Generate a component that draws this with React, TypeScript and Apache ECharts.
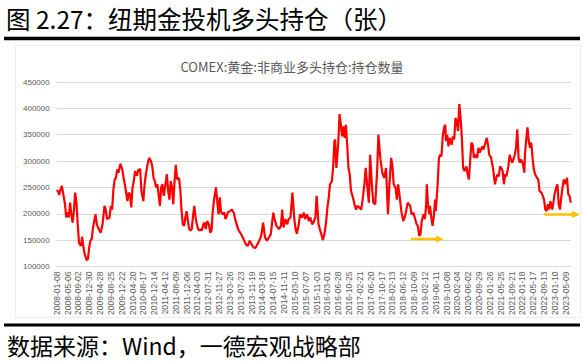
import React, { useEffect, useRef } from "react";
import * as echarts from "echarts";

// ---- data ----
const chartTitle = "COMEX:黄金:非商业多头持仓:持仓数量";
const headerText = "图 2.27：纽期金投机多头持仓（张）";
const footerText = "数据来源：Wind，一德宏观战略部";

// weekly report dates (category axis); one week missing in the 2018-19 shutdown
const firstWeek = "2008-01-08";
const weekCount = 809;
const missingWeek = "2019-01-01";

// y axis
const yMin = 100000;
const yMax = 450000;
const yStep = 50000;

// sampled points: week index on the category axis and long positions (contracts)
const weekIdx = [
  0, 2, 4, 6, 8, 10, 13, 15, 17, 19, 21, 23, 25, 27, 29, 31, 33, 35, 38, 40,
  42, 44, 47, 49, 51, 53, 55, 57, 61, 63, 66, 69, 72, 75, 77, 79, 83, 85, 87, 89,
  91, 93, 95, 97, 100, 103, 105, 107, 109, 111, 113, 115, 117, 119, 121, 123, 126, 128, 131, 133,
  136, 138, 140, 142, 145, 148, 150, 152, 154, 156, 158, 160, 162, 164, 166, 168, 170, 173, 175, 177,
  179, 181, 183, 185, 187, 189, 192, 194, 196, 198, 200, 202, 204, 206, 208, 210, 212, 214, 216, 218,
  220, 222, 224, 226, 228, 230, 232, 234, 236, 239, 241, 243, 245, 247, 250, 252, 254, 256, 258, 261,
  263, 265, 267, 269, 272, 275, 278, 281, 285, 288, 291, 294, 297, 300, 303, 306, 309, 312, 315, 318,
  321, 324, 327, 330, 333, 336, 340, 342, 345, 349, 352, 354, 356, 359, 362, 364, 367, 370, 373, 375,
  377, 380, 382, 385, 388, 390, 393, 396, 398, 401, 403, 406, 408, 411, 413, 418, 421, 423, 425, 427,
  429, 432, 434, 436, 437, 439, 442, 444, 446, 448, 450, 452, 454, 456, 458, 460, 462, 465, 468, 470,
  472, 475, 478, 480, 483, 485, 488, 490, 492, 495, 497, 500, 503, 505, 508, 511, 514, 517, 520, 522,
  525, 527, 529, 532, 534, 536, 538, 541, 544, 547, 551, 555, 557, 560, 562, 565, 567, 569, 571, 573,
  576, 578, 580, 581, 583, 585, 586, 588, 590, 592, 594, 595, 598, 600, 602, 604, 606, 608, 610, 611,
  613, 615, 617, 620, 622, 624, 626, 628, 630, 632, 634, 636, 638, 640, 643, 645, 647, 649, 651, 653,
  655, 657, 660, 662, 664, 668, 670, 673, 675, 677, 679, 682, 685, 688, 690, 692, 694, 696, 698, 700,
  702, 704, 706, 709, 711, 713, 715, 717, 719, 721, 723, 725, 727, 729, 732, 734, 735, 737, 739, 741,
  743, 745, 747, 749, 751, 754, 756, 758, 761, 763, 765, 767, 769, 771, 773, 775, 778, 780, 782, 784,
  786, 788, 790, 792, 794, 796, 798, 801, 803, 805, 807,
];
const longPos = [
  245000, 243000, 236000, 246000, 253000, 240000, 218000, 193000, 203000, 193000, 221000, 199000, 183000, 205000, 240000, 221000, 180000, 145000, 139000, 156000,
  136000, 123000, 112000, 114000, 136000, 149000, 152000, 174000, 199000, 180000, 171000, 164000, 180000, 215000, 208000, 190000, 193000, 215000, 208000, 246000,
  265000, 268000, 284000, 278000, 295000, 284000, 268000, 256000, 240000, 224000, 240000, 237000, 212000, 250000, 262000, 281000, 272000, 283000, 285000, 243000,
  224000, 256000, 275000, 290000, 306000, 300000, 290000, 268000, 262000, 250000, 256000, 237000, 215000, 250000, 256000, 234000, 250000, 275000, 243000, 227000,
  262000, 250000, 218000, 262000, 293000, 265000, 268000, 246000, 205000, 180000, 177000, 193000, 205000, 186000, 171000, 168000, 171000, 196000, 215000, 193000,
  180000, 171000, 168000, 171000, 168000, 180000, 183000, 171000, 186000, 180000, 164000, 168000, 205000, 227000, 250000, 224000, 199000, 231000, 203000, 199000,
  203000, 190000, 196000, 203000, 205000, 208000, 202000, 186000, 170000, 164000, 158000, 150000, 142000, 139000, 149000, 142000, 136000, 135000, 142000, 149000,
  158000, 183000, 155000, 149000, 155000, 161000, 202000, 190000, 177000, 171000, 177000, 208000, 174000, 190000, 180000, 190000, 193000, 240000, 190000, 171000,
  162000, 180000, 199000, 193000, 202000, 190000, 199000, 186000, 193000, 180000, 183000, 193000, 234000, 180000, 171000, 150000, 167000, 186000, 212000, 230000,
  256000, 262000, 290000, 338000, 341000, 287000, 335000, 389000, 369000, 347000, 366000, 344000, 369000, 331000, 287000, 275000, 243000, 231000, 215000, 208000,
  215000, 212000, 208000, 224000, 256000, 287000, 246000, 221000, 312000, 249000, 221000, 218000, 281000, 350000, 306000, 278000, 268000, 287000, 199000, 249000,
  306000, 290000, 256000, 249000, 227000, 256000, 237000, 205000, 186000, 196000, 221000, 215000, 199000, 202000, 193000, 180000, 177000, 158000, 161000, 186000,
  199000, 190000, 218000, 256000, 215000, 199000, 215000, 193000, 177000, 196000, 227000, 205000, 256000, 306000, 312000, 309000, 347000, 363000, 369000, 338000,
  350000, 328000, 344000, 331000, 347000, 341000, 382000, 376000, 357000, 408000, 382000, 344000, 287000, 281000, 290000, 275000, 265000, 300000, 335000, 331000,
  306000, 312000, 306000, 325000, 316000, 328000, 322000, 335000, 344000, 331000, 312000, 306000, 285000, 256000, 268000, 275000, 271000, 290000, 287000, 281000,
  256000, 275000, 271000, 290000, 312000, 303000, 297000, 303000, 312000, 325000, 360000, 306000, 297000, 303000, 294000, 278000, 312000, 341000, 364000, 338000,
  325000, 335000, 306000, 284000, 275000, 268000, 265000, 243000, 240000, 234000, 227000, 208000, 205000, 218000, 208000, 224000, 208000, 224000, 240000, 249000,
  256000, 218000, 208000, 231000, 249000, 265000, 256000, 268000, 237000, 234000, 221000,
];

function buildWeeks(): string[] {
  const out: string[] = [];
  const t0 = Date.parse(firstWeek + "T00:00:00Z");
  for (let i = 0; i < weekCount; i++) {
    const d = new Date(t0 + i * 7 * 86400000).toISOString().slice(0, 10);
    if (d !== missingWeek) out.push(d);
  }
  return out;
}

const CJK = "'Noto Sans CJK SC', 'Noto Sans', sans-serif";
const LAT = "'Liberation Sans', Arial, sans-serif";

export default function App() {
  const ref = useRef<HTMLDivElement>(null);
  useEffect(() => {
    if (!ref.current) return;
    const chart = echarts.init(ref.current, undefined, { renderer: "svg" });
    const weeks = buildWeeks();
    const data = weekIdx.map((w, i) => [w, longPos[i]]);
    const gold = "#FFC000";
    const arrow = (x1: number, x2: number, y: number) => [
      { type: "line", shape: { x1, y1: y, x2: x2 - 6, y2: y }, style: { stroke: gold, lineWidth: 2.5 }, z: 10 },
      {
        type: "polygon",
        shape: { points: [[x2 - 8, y - 3.5], [x2, y], [x2 - 8, y + 3.5]] },
        style: { fill: gold },
        z: 10,
      },
    ];
    chart.setOption({
      animation: false,
      backgroundColor: "#ffffff",
      title: {
        text: chartTitle,
        left: "center",
        top: 55,
        textStyle: { fontSize: 13, fontWeight: "normal", color: "#595959", fontFamily: CJK },
      },
      grid: { left: 56.7, right: 13.2, top: 82, bottom: 95.5 },
      xAxis: {
        type: "category",
        data: weeks,
        boundaryGap: false,
        axisTick: { show: false },
        axisLine: { lineStyle: { color: "#d9d9d9", width: 1 } },
        axisLabel: { rotate: 90, interval: 16, fontSize: 8.5, color: "#595959", margin: 5, fontFamily: LAT },
        splitLine: { show: false },
      },
      yAxis: {
        type: "value",
        min: yMin,
        max: yMax,
        interval: yStep,
        axisLine: { show: false },
        axisTick: { show: false },
        axisLabel: {
          fontSize: 8,
          color: "#595959",
          margin: 7,
          fontFamily: LAT,
          formatter: (v: number) => String(v),
        },
        splitLine: { lineStyle: { color: "#d9d9d9", width: 1 } },
      },
      series: [
        {
          type: "line",
          data,
          showSymbol: false,
          lineStyle: { color: "#FF0000", width: 2.2 },
          itemStyle: { color: "#FF0000" },
        },
      ],
      graphic: [
        {
          type: "text",
          left: 6,
          top: 6,
          style: { text: headerText, fontSize: 24.5, fill: "#000000", fontFamily: CJK },
        },
        { type: "line", shape: { x1: 4, y1: 38.5, x2: 580, y2: 38.5 }, style: { stroke: "#000", lineWidth: 3.5 } },
        {
          type: "rect",
          shape: { x: 15.5, y: 45.5, width: 565, height: 272 },
          style: { fill: "none", stroke: "#eeeeee", lineWidth: 1 },
          z: -1,
        },
        ...arrow(411, 444, 239),
        ...arrow(544, 580, 214.5),
        { type: "line", shape: { x1: 4, y1: 325, x2: 580, y2: 325 }, style: { stroke: "#000", lineWidth: 3 } },
        {
          type: "text",
          left: 7,
          top: 333,
          style: { text: footerText, fontSize: 23, fill: "#000000", fontFamily: CJK },
        },
      ],
    });
    return () => chart.dispose();
  }, []);
  return (
    <div
      ref={ref}
      style={{ position: "fixed", left: 0, top: 0, width: 584, height: 362, background: "#fff" }}
    />
  );
}
